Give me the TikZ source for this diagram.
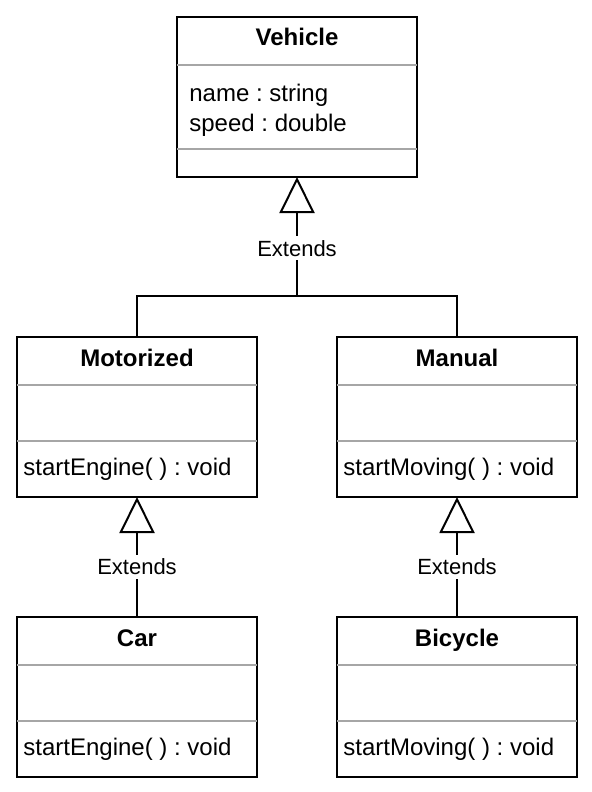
\documentclass[tikz,border=0pt]{standalone}
\usepackage{fontspec}
\setmainfont{Liberation Sans}
\usetikzlibrary{arrows.meta,positioning}
\frenchspacing

\begin{document}
\begin{tikzpicture}[x=0.5pt,y=-0.5pt]
    \tikzstyle{classbox} = [rectangle, draw=black, line width=1pt, fill=white, minimum width=120pt, minimum height=80pt, inner sep=0pt, outer sep=0pt]
    \tikzstyle{sep} = [draw=gray!70, line width=0.6pt]
    \tikzstyle{title} = [font=\fontsize{12}{15}\selectfont\bfseries, inner sep=0pt, anchor=base]
    \tikzstyle{member} = [font=\fontsize{12}{15}\selectfont, anchor=west, inner sep=0pt, align=left]
    \tikzstyle{extends} = [line width=1pt, -{Triangle[open, length=18pt, width=17.5pt, fill=white]}]
    \tikzstyle{tag} = [font=\fontsize{11}{13}\selectfont, fill=white, inner sep=2pt]

    \useasboundingbox (0,0) rectangle (592,792);

    % Classes
    \node (vehicle) [classbox] at (297,97) {};
    \node (motorized) [classbox] at (137,417) {};
    \node (manual) [classbox, right=40pt of motorized] {};
    \node (car) [classbox, below=60pt of motorized] {};
    \node (bicycle) [classbox, below=60pt of manual] {};

    % Compartments
    \draw [sep] ([yshift=-24pt]vehicle.north west) -- ([yshift=-24pt]vehicle.north east);
    \draw [sep] ([yshift=-66pt]vehicle.north west) -- ([yshift=-66pt]vehicle.north east);
    \draw [sep] ([yshift=-24pt]motorized.north west) -- ([yshift=-24pt]motorized.north east);
    \draw [sep] ([yshift=-52pt]motorized.north west) -- ([yshift=-52pt]motorized.north east);
    \draw [sep] ([yshift=-24pt]manual.north west) -- ([yshift=-24pt]manual.north east);
    \draw [sep] ([yshift=-52pt]manual.north west) -- ([yshift=-52pt]manual.north east);
    \draw [sep] ([yshift=-24pt]car.north west) -- ([yshift=-24pt]car.north east);
    \draw [sep] ([yshift=-52pt]car.north west) -- ([yshift=-52pt]car.north east);
    \draw [sep] ([yshift=-24pt]bicycle.north west) -- ([yshift=-24pt]bicycle.north east);
    \draw [sep] ([yshift=-52pt]bicycle.north west) -- ([yshift=-52pt]bicycle.north east);

    % Texts
    \node (vehicle-name) [title] at ([yshift=-14.5pt]vehicle.north) {Vehicle};
    \node (vehicle-attr) [member] at ([xshift=6pt, yshift=-46.5pt]vehicle.north west) {name : string\\speed : double};
    \node (motorized-name) [title] at ([yshift=-14.5pt]motorized.north) {Motorized};
    \node (motorized-op) [member] at ([xshift=3pt, yshift=-66pt]motorized.north west) {startEngine( ) : void};
    \node (manual-name) [title] at ([yshift=-14.5pt]manual.north) {Manual};
    \node (manual-op) [member] at ([xshift=3pt, yshift=-66pt]manual.north west) {startMoving( ) : void};
    \node (car-name) [title] at ([yshift=-14.5pt]car.north) {Car};
    \node (car-op) [member] at ([xshift=3pt, yshift=-66pt]car.north west) {startEngine( ) : void};
    \node (bicycle-name) [title] at ([yshift=-14.5pt]bicycle.north) {Bicycle};
    \node (bicycle-op) [member] at ([xshift=3pt, yshift=-66pt]bicycle.north west) {startMoving( ) : void};

    % Arrows
    \coordinate (join) at (297,296);
    \draw [line width=1pt] (motorized.north) |- (join) -| (manual.north);
    \draw [extends] (join) -- node[tag, pos=0.4] (tag-vehicle) {Extends} (vehicle.south);
    \draw [extends] (car.north) -- node[tag, pos=0.42] (tag-car) {Extends} (motorized.south);
    \draw [extends] (bicycle.north) -- node[tag, pos=0.42] (tag-bicycle) {Extends} (manual.south);
\end{tikzpicture}
\end{document}
